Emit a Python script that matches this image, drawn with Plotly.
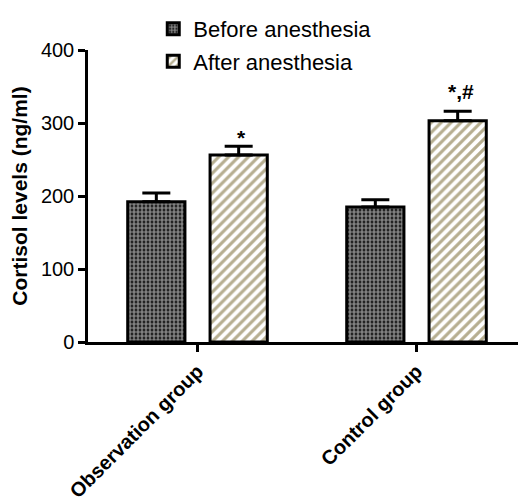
import plotly.graph_objects as go

categories = ["Observation group", "Control group"]
before_vals = [192, 185]
before_err = [12, 10]
after_vals = [256, 303]
after_err = [12, 13]
annot_after = ["*", "*,#"]
series_names = ["Before anesthesia", "After anesthesia"]
y_ticks = [0, 100, 200, 300, 400]

FONT = "Arial, Liberation Sans, sans-serif"

fig = go.Figure()
fig.add_trace(go.Bar(
    x=categories, y=before_vals, name=series_names[0], legendgroup="a",
    marker=dict(color="white",
                line=dict(color="black", width=3),
                pattern=dict(shape=".", fgcolor="white", bgcolor="#000000",
                             size=4, solidity=0.7)),
    error_y=dict(type="data", array=before_err, arrayminus=[0, 0],
                 symmetric=False, color="black", thickness=3, width=14),
))
fig.add_trace(go.Bar(
    x=categories, y=after_vals, name=series_names[1], legendgroup="b",
    marker=dict(color="white",
                line=dict(color="black", width=3),
                pattern=dict(shape="/", fgcolor="#6e5e22", bgcolor="white",
                             size=7, solidity=0.45)),
    error_y=dict(type="data", array=after_err, arrayminus=[0, 0],
                 symmetric=False, color="black", thickness=3, width=14),
))

yshifts = [9, 20]
for i, cat in enumerate(categories):
    fig.add_annotation(x=cat, y=after_vals[i] + after_err[i], text="<b>%s</b>" % annot_after[i],
                       showarrow=False, xshift=44, yshift=yshifts[i],
                       font=dict(family=FONT, size=21, color="black"))

fig.update_layout(
    width=518, height=495,
    margin=dict(l=80, r=0, t=42, b=161, autoexpand=False),
    paper_bgcolor="white", plot_bgcolor="white",
    barmode="group", bargap=0.248, bargroupgap=0.305,
    font=dict(family=FONT, color="black"),
    showlegend=True,
    legend=dict(x=0.149, y=1.144, xanchor="left", yanchor="top",
                traceorder="grouped", tracegroupgap=1,
                font=dict(family=FONT, size=22, color="black"),
                bgcolor="rgba(0,0,0,0)"),
    xaxis=dict(range=[-0.5, 1.5], showline=True, linecolor="black", linewidth=2.5,
               ticks="outside", ticklen=7, tickwidth=2.5, tickcolor="black",
               tickangle=-45, showgrid=False, zeroline=False,
               tickfont=dict(family=FONT, size=20, color="black"),
               tickprefix="<b>", ticksuffix="</b>"),
    yaxis=dict(range=[0, 400], tickvals=y_ticks, showline=True, linecolor="black",
               linewidth=2.5, ticks="outside", ticklen=7, tickwidth=2.5,
               tickcolor="black", showgrid=False, zeroline=False,
               tickfont=dict(family=FONT, size=20, color="black"),
               tickprefix="<b>", ticksuffix="</b>",
               title=dict(text="<b>Cortisol levels (ng/ml)</b>",
                          font=dict(family=FONT, size=21, color="black"), standoff=9)),
)

fig.write_html("out.html")
